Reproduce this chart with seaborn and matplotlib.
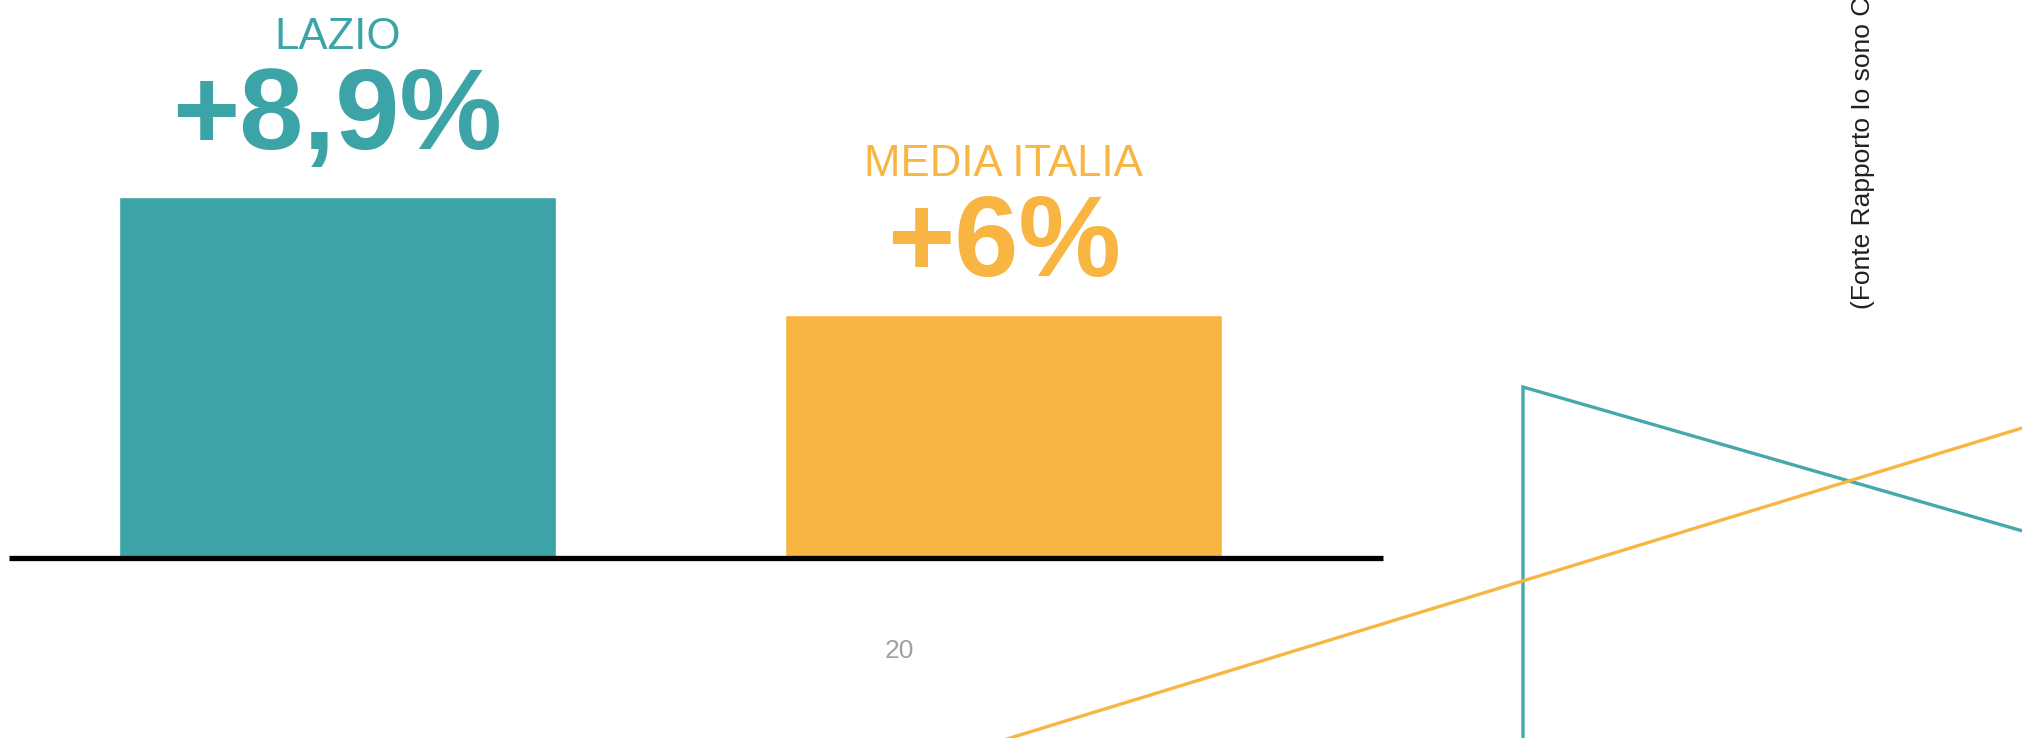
import matplotlib
matplotlib.use("Agg")
import matplotlib.pyplot as plt
import seaborn as sns
import pandas as pd

# ---- data ----
categories = ["LAZIO", "MEDIA ITALIA"]
values = [8.9, 6.0]
value_labels = ["+8,9%", "+6%"]
page_number = "20"
source_text = "(Fonte Rapporto Io sono Cultura 2019)"

# ---- style ----
bar_colors = ["#3CA4A6", "#F9B541"]
label_offsets_px = [48, 39]        # gap bar top -> value baseline
title_gap_px = 100                 # value baseline -> category baseline

sns.set_style("white")
plt.rcParams["font.family"] = ["Liberation Sans", "DejaVu Sans"]

W, H, DPI = 2022, 738, 100
fig = plt.figure(figsize=(W / DPI, H / DPI), dpi=DPI)
fig.patch.set_facecolor("white")

# decorative background lines (figure pixel frame)
deco = fig.add_axes([0, 0, 1, 1], zorder=0)
deco.set_xlim(0, W)
deco.set_ylim(H, 0)
deco.set_axis_off()
deco.plot([1523, 1523, 2040], [760, 387, 536], color="#45A9AA", lw=2.4,
          solid_joinstyle="miter", solid_capstyle="butt")
deco.plot([980, 2040], [747.2, 422.5], color="#F9B541", lw=2.4)

# main bar chart
base_y = 558.4
ax = fig.add_axes([9 / W, 1 - base_y / H, (1383 - 9) / W, base_y / H], zorder=1)
ax.patch.set_alpha(0)
df = pd.DataFrame({"cat": categories, "val": values})
sns.barplot(data=df, x="cat", y="val", hue="cat", palette=bar_colors,
            width=0.656, legend=False, ax=ax, saturation=1)
ax.set_xlim(-0.4932, 1.5695)
ax.set_ylim(0, base_y / 40.6)
for s in ["top", "right", "left"]:
    ax.spines[s].set_visible(False)
ax.spines["bottom"].set_linewidth(3.8)
ax.spines["bottom"].set_color("black")
ax.spines["bottom"].set_capstyle("butt")
ax.set_xticks([])
ax.set_yticks([])
ax.set_xlabel("")
ax.set_ylabel("")

px2pt = 72 / DPI
for i, (cat, v, lab) in enumerate(zip(categories, values, value_labels)):
    off = label_offsets_px[i] * px2pt
    ax.annotate(lab, xy=(i, v), xytext=(0, off), textcoords="offset points",
                ha="center", va="baseline", fontsize=83, fontweight="bold",
                color=bar_colors[i])
    ax.annotate(cat, xy=(i, v), xytext=(0, off + title_gap_px * px2pt),
                textcoords="offset points", ha="center", va="baseline",
                fontsize=31.5, color=bar_colors[i])

# page number
fig.text(899 / W, 1 - 658 / H, page_number, ha="center", va="baseline",
         fontsize=19, color="#A0A0A0")

# rotated source text (runs off the top edge, as in the original)
fig.text(1870 / W, 1 - 309 / H, source_text, rotation=90, rotation_mode="anchor",
         ha="left", va="baseline", fontsize=19, color="#231F20")

fig.savefig("out.png", dpi=DPI, facecolor="white")
